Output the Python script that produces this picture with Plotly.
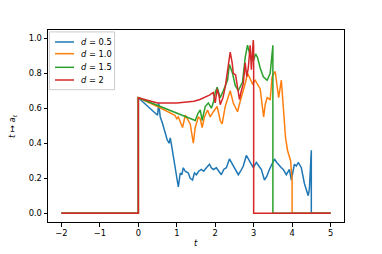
import plotly.graph_objects as go

labels = ["<i>d</i> = 0.5", "<i>d</i> = 1.0", "<i>d</i> = 1.5", "<i>d</i> = 2"]
colors = ["#1f77b4", "#ff7f0e", "#2ca02c", "#d62728"]
x_ticks = [-2, -1, 0, 1, 2, 3, 4, 5]
y_ticks = [0, 0.2, 0.4, 0.6, 0.8, 1.0]

t_blue = [-2, 0, 0, 0.1, 0.2, 0.3, 0.4, 0.5, 0.53, 0.57, 0.62, 0.66, 0.7, 0.75, 0.8, 0.83, 0.87,
          0.9, 0.93, 0.97, 1.01, 1.04, 1.09, 1.13, 1.17, 1.22, 1.3, 1.35, 1.41, 1.46, 1.51, 1.57,
          1.64, 1.7, 1.77, 1.85, 1.9, 1.95, 2.03, 2.09, 2.16, 2.22, 2.29, 2.37, 2.42, 2.47, 2.53,
          2.6, 2.66, 2.73, 2.81, 2.89, 2.94, 2.99, 3.07, 3.13, 3.2, 3.28, 3.34, 3.41, 3.47, 3.54,
          3.6, 3.67, 3.72, 3.77, 3.85, 3.93, 3.98, 4.06, 4.11, 4.16, 4.24, 4.32, 4.38, 4.42, 4.45,
          4.5, 4.5, 5]
y_blue = [0, 0, 0.66, 0.64, 0.62, 0.60, 0.58, 0.56, 0.63, 0.55, 0.52, 0.49, 0.46, 0.42, 0.40, 0.43, 0.38,
          0.34, 0.30, 0.26, 0.21, 0.15, 0.23, 0.22, 0.26, 0.24, 0.23, 0.20, 0.19, 0.23, 0.22, 0.24,
          0.25, 0.24, 0.26, 0.28, 0.26, 0.25, 0.26, 0.24, 0.22, 0.25, 0.26, 0.31, 0.29, 0.27, 0.25,
          0.22, 0.24, 0.27, 0.33, 0.30, 0.28, 0.26, 0.29, 0.27, 0.25, 0.19, 0.21, 0.25, 0.28, 0.31,
          0.29, 0.27, 0.26, 0.25, 0.22, 0.25, 0.19, 0.28, 0.27, 0.29, 0.26, 0.17, 0.13, 0.10, 0.14,
          0.36, 0, 0]

t_orange = [-2, 0, 0, 0.5, 0.95, 1.0, 1.04, 1.1, 1.15, 1.22, 1.3, 1.35, 1.43, 1.48, 1.56, 1.61,
            1.66, 1.72, 1.8, 1.87, 1.95, 2.05, 2.13, 2.18, 2.26, 2.33, 2.39, 2.47, 2.53, 2.58, 2.65,
            2.73, 2.79, 2.84, 2.9, 2.97, 3.04, 3.1, 3.17, 3.22, 3.26, 3.3, 3.35, 3.43, 3.48, 3.56,
            3.61, 3.65, 3.72, 3.77, 3.8, 3.83, 3.88, 3.96, 4.0, 4.0, 5]
y_orange = [0, 0, 0.66, 0.61, 0.56, 0.54, 0.55, 0.52, 0.49, 0.56, 0.53, 0.51, 0.40, 0.49, 0.55, 0.54,
            0.49, 0.55, 0.59, 0.55, 0.58, 0.61, 0.53, 0.51, 0.61, 0.66, 0.70, 0.63, 0.60, 0.58, 0.64,
            0.70, 0.75, 0.80, 0.77, 0.74, 0.76, 0.74, 0.71, 0.62, 0.55, 0.62, 0.66, 0.65, 0.78, 0.81,
            0.72, 0.66, 0.76, 0.59, 0.47, 0.43, 0.36, 0.30, 0.19, 0, 0]

t_green = [-2, 0, 0, 1.48, 1.55, 1.61, 1.66, 1.74, 1.82, 1.9, 1.96, 2.0, 2.05, 2.13, 2.21, 2.27,
           2.32, 2.37, 2.45, 2.52, 2.6, 2.71, 2.78, 2.84, 2.91, 2.99, 3.05, 3.1, 3.17, 3.25, 3.35,
           3.43, 3.5, 3.5, 5]
y_green = [0, 0, 0.66, 0.53, 0.57, 0.59, 0.53, 0.61, 0.63, 0.60, 0.64, 0.69, 0.72, 0.66, 0.70, 0.73,
           0.76, 0.85, 0.80, 0.73, 0.70, 0.75, 0.89, 0.96, 0.90, 0.87, 0.91, 0.89, 0.83, 0.78, 0.76,
           0.80, 0.96, 0, 0]

t_red = [-2, 0, 0, 0.25, 0.5, 1.0, 1.45, 1.6, 1.85, 1.95, 2.0, 2.05, 2.1, 2.13, 2.2, 2.26, 2.31,
         2.35, 2.39, 2.44, 2.47, 2.53, 2.58, 2.63, 2.68, 2.73, 2.78, 2.82, 2.86, 2.91, 2.94, 2.97,
         2.99, 3.0, 3.0, 5]
y_red = [0, 0, 0.66, 0.645, 0.63, 0.63, 0.64, 0.65, 0.675, 0.69, 0.63, 0.71, 0.67, 0.62, 0.66, 0.72, 0.80,
         0.88, 0.92, 0.86, 0.80, 0.79, 0.72, 0.65, 0.70, 0.74, 0.86, 0.78, 0.83, 0.96, 0.82, 0.90,
         0.99, 0.95, 0, 0]

series = [(t_blue, y_blue), (t_orange, y_orange), (t_green, y_green), (t_red, y_red)]

FONT = "DejaVu Sans"
FS = 8.3

fig = go.Figure()
for (tx, ty), name, c in zip(series, labels, colors):
    fig.add_trace(go.Scatter(x=tx, y=ty, mode="lines", name=name,
                             line=dict(color=c, width=1.5), showlegend=False))

axis_common = dict(showline=True, linecolor="black", linewidth=1, mirror=True,
                   ticks="outside", ticklen=3.5, tickcolor="black", tickwidth=1,
                   showgrid=False, zeroline=False, automargin=False,
                   tickfont=dict(family=FONT, size=FS, color="black"))

# Legend drawn manually (matplotlib-like compact spacing)
shapes = [dict(type="rect", xref="paper", yref="paper", x0=0.0045, x1=0.225, y0=0.689, y1=0.990,
               line=dict(color="#cccccc", width=1), fillcolor="rgba(255,255,255,0.8)", layer="above")]
annotations = []
row_y = [0.9375, 0.8766, 0.8057, 0.7396]
for name, c, ry in zip(labels, colors, row_y):
    shapes.append(dict(type="line", xref="paper", yref="paper", x0=0.0236, x1=0.0878, y0=ry, y1=ry,
                       line=dict(color=c, width=1.5), layer="above"))
    annotations.append(dict(text=name, xref="paper", yref="paper", x=0.104, y=ry,
                            xanchor="left", yanchor="middle", showarrow=False,
                            font=dict(family=FONT, size=FS, color="black")))

annotations.append(dict(text="<i>t</i>", xref="paper", yref="paper", x=0.5, y=-0.109,
                        xanchor="center", yanchor="middle", showarrow=False,
                        font=dict(family=FONT, size=FS, color="black")))
annotations.append(dict(text="<i>t</i> ↦ <i>a<sub>t</sub></i>", xref="paper", yref="paper",
                        x=-0.122, y=0.5, xanchor="center", yanchor="middle", showarrow=False,
                        textangle=-90, font=dict(family=FONT, size=FS, color="black")))

fig.update_layout(
    width=382, height=254,
    margin=dict(l=48, r=38, t=30, b=32),
    paper_bgcolor="white", plot_bgcolor="white",
    font=dict(family=FONT, size=FS, color="black"),
    xaxis=dict(range=[-2.35, 5.35], tickmode="array", tickvals=x_ticks, **axis_common),
    yaxis=dict(range=[-0.05, 1.047], tickmode="array", tickvals=y_ticks, tickformat=".1f",
               **axis_common),
    shapes=shapes,
    annotations=annotations,
    showlegend=False,
)

fig.write_html("out.html", config={"displayModeBar": False},
               post_script="document.body.style.margin='0';document.body.style.padding='0';")
